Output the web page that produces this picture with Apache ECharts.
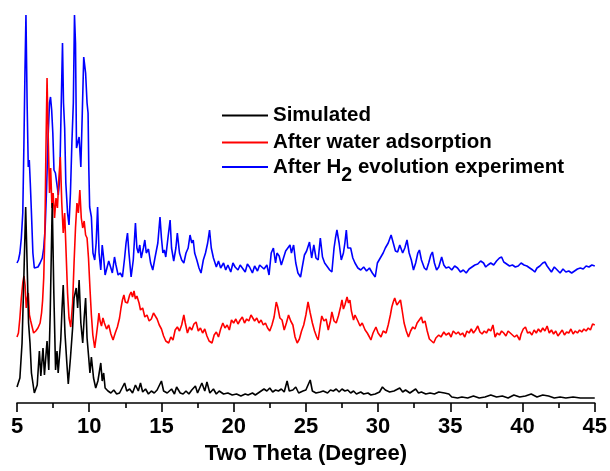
<!DOCTYPE html>
<html>
<head>
<meta charset="utf-8">
<script src="https://cdn.jsdelivr.net/npm/echarts/dist/echarts.min.js"></script>
<style>html,body{margin:0;padding:0;background:#fff;}#c{width:610px;height:471px;}</style>
</head>
<body>
<div id="c"></div>
<script>
// Series values: [two theta (deg), offset intensity (a.u.)]
const simulated = [
[5.0,16],[5.2,25],[5.35,60],[5.45,112],[5.6,196],[5.7,140],[5.8,80],[5.9,60],[6.0,30],[6.2,10],[6.4,18],[6.55,52],[6.65,27],[6.8,55],[6.9,28],[7.08,62],[7.2,33],[7.3,90],[7.44,200],[7.55,110],[7.67,33],[7.77,52],[7.85,30],[8.03,63],[8.12,95],[8.2,118],[8.32,70],[8.45,40],[8.55,19],[8.7,45],[8.85,75],[8.95,105],[9.1,115],[9.2,95],[9.3,123],[9.42,80],[9.55,60],[9.65,85],[9.75,105],[9.85,65],[9.95,48],[10.05,30],[10.15,46],[10.3,25],[10.45,15],[10.6,22],[10.8,40],[10.9,22],[11.0,30],[11.1,15],[11.3,12],[11.5,10],[11.7,13],[11.9,9],[12.1,10],[12.45,20],[12.6,12],[12.8,14],[13.0,10],[13.2,18],[13.4,12],[13.55,20],[13.7,11],[13.9,14],[14.1,9],[14.3,12],[14.5,10],[14.7,13],[15.0,22],[15.15,12],[15.4,10],[15.7,14],[15.9,9],[16.05,16],[16.3,10],[16.5,9],[16.7,12],[16.9,9],[17.1,13],[17.35,17],[17.5,10],[17.8,20],[18.0,12],[18.15,21],[18.35,10],[18.6,14],[18.8,9],[19.0,12],[19.3,9],[19.6,10],[19.9,8],[20.2,9],[20.5,7],[20.8,9],[21.0,8],[21.3,10],[21.5,8],[21.8,11],[22.1,14],[22.3,12],[22.5,15],[22.7,11],[22.9,13],[23.1,12],[23.3,14],[23.5,11],[23.7,22],[23.85,12],[24.1,13],[24.3,16],[24.5,10],[24.8,12],[25.0,13],[25.3,23],[25.45,12],[25.7,10],[26.0,11],[26.2,12],[26.5,10],[26.7,13],[26.9,12],[27.1,14],[27.3,11],[27.5,14],[27.7,12],[27.9,13],[28.1,10],[28.3,12],[28.5,9],[28.8,11],[29.0,9],[29.3,10],[29.5,8],[29.8,9],[30.1,11],[30.3,16],[30.5,13],[30.8,11],[31.1,12],[31.5,15],[31.7,11],[31.9,13],[32.2,10],[32.4,12],[32.6,14],[32.8,10],[33.0,11],[33.3,9],[33.6,10],[33.9,9],[34.2,11],[34.6,10],[34.9,9],[35.1,6],[35.5,5],[35.8,6],[36.2,5],[36.6,7],[37.0,5],[37.4,6],[37.8,8],[38.2,6],[38.6,7],[39.0,5],[39.4,8],[39.8,6],[40.2,7],[40.6,9],[41.0,6],[41.4,8],[41.8,7],[42.2,5],[42.6,6],[43.0,5],[43.5,6],[44.0,5],[44.5,5],[45.0,5]
];
const waterAdsorbed = [
[5.0,66],[5.1,70],[5.2,85],[5.3,105],[5.4,120],[5.48,127],[5.56,118],[5.64,95],[5.72,105],[5.78,110],[5.86,88],[5.95,82],[6.05,76],[6.15,70],[6.3,72],[6.45,75],[6.6,80],[6.7,90],[6.77,102],[6.85,125],[6.93,170],[7.0,250],[7.08,325],[7.17,260],[7.25,210],[7.33,235],[7.42,195],[7.5,210],[7.6,185],[7.7,205],[7.8,195],[7.9,225],[8.0,246],[8.1,200],[8.2,170],[8.3,190],[8.4,150],[8.5,110],[8.6,85],[8.72,76],[8.85,100],[8.95,140],[9.05,175],[9.15,200],[9.25,190],[9.35,213],[9.45,185],[9.55,175],[9.65,182],[9.75,168],[9.85,165],[9.95,145],[10.05,115],[10.15,88],[10.25,68],[10.38,55],[10.5,68],[10.6,80],[10.67,90],[10.75,82],[10.85,77],[10.95,85],[11.05,80],[11.2,74],[11.35,78],[11.5,69],[11.65,63],[11.8,70],[11.95,76],[12.1,85],[12.2,95],[12.3,103],[12.4,108],[12.5,101],[12.65,100],[12.8,108],[12.9,111],[13.0,106],[13.1,112],[13.2,104],[13.3,107],[13.45,100],[13.55,93],[13.7,95],[13.85,86],[14.0,88],[14.15,82],[14.3,84],[14.45,90],[14.55,88],[14.7,84],[14.85,78],[15.0,74],[15.15,67],[15.3,62],[15.5,60],[15.65,66],[15.8,63],[15.95,73],[16.1,76],[16.25,72],[16.4,78],[16.55,88],[16.65,80],[16.8,70],[16.95,76],[17.1,73],[17.25,79],[17.4,81],[17.55,72],[17.7,75],[17.85,70],[18.0,74],[18.15,67],[18.3,62],[18.5,60],[18.65,68],[18.8,71],[18.95,66],[19.1,74],[19.25,80],[19.4,75],[19.55,78],[19.7,73],[19.85,83],[20.0,80],[20.15,84],[20.3,79],[20.45,83],[20.6,86],[20.75,80],[20.9,84],[21.05,82],[21.2,88],[21.3,90],[21.45,82],[21.6,85],[21.75,80],[21.9,83],[22.05,78],[22.2,80],[22.35,75],[22.5,72],[22.65,78],[22.8,86],[22.95,101],[23.05,96],[23.2,85],[23.35,83],[23.5,73],[23.65,80],[23.8,88],[23.95,82],[24.1,78],[24.25,66],[24.4,60],[24.55,64],[24.7,72],[24.85,78],[25.0,88],[25.15,101],[25.3,90],[25.45,80],[25.6,72],[25.75,66],[25.85,63],[26.0,78],[26.1,87],[26.25,82],[26.4,84],[26.55,73],[26.7,82],[26.8,91],[26.95,82],[27.1,80],[27.25,87],[27.4,96],[27.5,103],[27.6,94],[27.7,98],[27.85,106],[27.95,100],[28.05,103],[28.15,92],[28.3,83],[28.4,88],[28.5,90],[28.6,82],[28.75,77],[28.9,80],[29.1,73],[29.25,70],[29.4,66],[29.5,63],[29.65,70],[29.85,76],[30.0,70],[30.2,66],[30.35,72],[30.55,70],[30.7,78],[30.85,88],[30.95,96],[31.05,101],[31.15,105],[31.3,98],[31.4,96],[31.55,103],[31.65,94],[31.8,80],[31.95,72],[32.1,66],[32.25,72],[32.4,76],[32.55,74],[32.7,80],[32.85,83],[33.0,86],[33.1,80],[33.25,82],[33.4,72],[33.55,64],[33.7,62],[33.85,60],[34.0,65],[34.2,68],[34.35,66],[34.55,71],[34.7,68],[34.9,70],[35.05,66],[35.2,72],[35.4,69],[35.55,71],[35.7,68],[35.85,70],[36.0,66],[36.15,72],[36.3,70],[36.45,74],[36.6,70],[36.75,73],[36.9,77],[37.05,71],[37.2,69],[37.35,72],[37.5,70],[37.65,74],[37.8,72],[37.95,78],[38.1,66],[38.25,70],[38.4,68],[38.55,72],[38.7,70],[38.85,67],[39.0,72],[39.15,70],[39.3,68],[39.45,66],[39.6,68],[39.8,63],[39.9,69],[40.05,74],[40.2,76],[40.35,70],[40.5,71],[40.65,68],[40.8,73],[40.95,70],[41.1,74],[41.25,71],[41.4,75],[41.55,72],[41.7,77],[41.85,70],[42.0,73],[42.15,69],[42.3,72],[42.45,67],[42.6,70],[42.75,73],[42.9,68],[43.05,71],[43.2,70],[43.35,74],[43.5,69],[43.65,72],[43.8,70],[43.95,73],[44.1,71],[44.25,74],[44.4,72],[44.55,75],[44.7,73],[44.85,79],[45.0,78]
];
const afterH2 = [
[5.0,140],[5.1,143],[5.2,150],[5.3,165],[5.4,190],[5.48,260],[5.55,330],[5.62,388],[5.7,300],[5.78,236],[5.85,243],[5.92,220],[6.0,190],[6.1,150],[6.2,135],[6.3,133],[6.45,136],[6.6,140],[6.75,145],[6.85,155],[6.95,175],[7.05,215],[7.15,265],[7.25,300],[7.32,306],[7.4,293],[7.48,270],[7.56,233],[7.66,230],[7.76,232],[7.86,208],[7.96,225],[8.05,290],[8.15,360],[8.22,300],[8.3,275],[8.38,220],[8.5,190],[8.6,178],[8.7,210],[8.8,260],[8.9,300],[8.98,388],[9.05,360],[9.12,255],[9.2,253],[9.3,266],[9.42,236],[9.52,290],[9.62,346],[9.75,330],[9.85,300],[9.92,290],[9.97,236],[10.03,196],[10.15,186],[10.26,150],[10.38,143],[10.48,160],[10.58,196],[10.68,150],[10.8,133],[10.9,158],[11.0,145],[11.1,128],[11.2,126],[11.35,142],[11.5,135],[11.6,130],[11.75,146],[11.85,138],[12.0,128],[12.15,130],[12.3,126],[12.45,145],[12.55,160],[12.65,170],[12.75,150],[12.9,126],[13.05,143],[13.2,180],[13.3,155],[13.4,150],[13.5,158],[13.6,145],[13.75,155],[13.85,163],[13.95,150],[14.1,154],[14.25,140],[14.4,133],[14.55,145],[14.75,160],[14.9,186],[15.0,165],[15.1,150],[15.2,153],[15.3,146],[15.45,165],[15.6,183],[15.7,155],[15.85,142],[16.0,155],[16.1,170],[16.25,150],[16.4,143],[16.55,140],[16.7,150],[16.85,155],[16.98,168],[17.1,160],[17.2,163],[17.3,150],[17.45,143],[17.6,135],[17.74,130],[17.9,143],[18.05,150],[18.2,160],[18.33,173],[18.45,155],[18.6,145],[18.8,136],[18.95,142],[19.1,135],[19.3,140],[19.45,133],[19.6,138],[19.8,131],[19.95,140],[20.1,136],[20.3,133],[20.45,138],[20.6,135],[20.8,131],[20.95,139],[21.1,136],[21.3,130],[21.45,137],[21.65,132],[21.8,138],[21.95,136],[22.1,134],[22.3,138],[22.45,128],[22.6,150],[22.75,155],[22.9,140],[23.0,150],[23.15,147],[23.3,138],[23.45,145],[23.6,152],[23.75,155],[23.9,158],[24.0,150],[24.15,158],[24.3,140],[24.45,130],[24.63,126],[24.75,136],[24.9,148],[25.05,152],[25.25,161],[25.4,145],[25.55,158],[25.7,145],[25.85,143],[26.0,165],[26.15,146],[26.3,140],[26.5,136],[26.65,133],[26.8,131],[26.95,155],[27.05,165],[27.15,173],[27.3,160],[27.45,143],[27.6,150],[27.7,160],[27.8,173],[27.9,155],[28.0,153],[28.1,155],[28.25,145],[28.4,140],[28.6,135],[28.8,133],[29.0,136],[29.2,132],[29.4,135],[29.6,130],[29.8,126],[29.95,140],[30.15,145],[30.35,150],[30.5,155],[30.7,160],[30.9,168],[31.05,160],[31.2,152],[31.35,151],[31.5,158],[31.7,150],[31.85,155],[32.0,163],[32.15,150],[32.3,143],[32.45,133],[32.6,140],[32.75,150],[32.86,153],[33.0,143],[33.2,135],[33.35,133],[33.5,140],[33.65,148],[33.76,151],[33.9,140],[34.05,133],[34.2,136],[34.4,146],[34.55,138],[34.7,135],[34.9,136],[35.1,133],[35.3,137],[35.5,135],[35.7,131],[35.9,133],[36.1,130],[36.3,134],[36.5,136],[36.7,138],[36.9,139],[37.1,142],[37.3,140],[37.45,136],[37.6,138],[37.8,140],[38.0,138],[38.2,142],[38.4,145],[38.55,146],[38.7,141],[38.9,139],[39.1,137],[39.3,138],[39.5,136],[39.7,137],[39.9,140],[40.1,138],[40.3,137],[40.5,135],[40.7,133],[40.85,131],[41.0,135],[41.2,137],[41.4,140],[41.55,141],[41.7,137],[41.85,134],[42.0,131],[42.2,136],[42.4,133],[42.6,130],[42.8,134],[43.0,131],[43.2,132],[43.4,130],[43.6,132],[43.8,134],[44.0,135],[44.2,134],[44.4,137],[44.6,136],[44.8,138],[45.0,137]
];
const seriesNames = ['Simulated', 'After water adsorption', 'After H2 evolution experiment'];
const xTicks = [5, 10, 15, 20, 25, 30, 35, 40, 45];

const FONT = "'Liberation Sans', Arial, sans-serif";
const colors = ['#000000', '#ff0000', '#0000ff'];
const chart = echarts.init(document.getElementById('c'), null, {renderer: 'canvas'});

function legendFor(i, top) {
  const base = {fontFamily: FONT, fontSize: 20.5, fontWeight: 'bold', color: '#000', lineHeight: 20};
  return {
    data: [seriesNames[i]], orient: 'vertical', left: 222, top: top,
    icon: 'rect', itemWidth: 46, itemHeight: 2, padding: 0,
    selectedMode: false,
    textStyle: Object.assign({}, base, {
      rich: {
        a: base,
        s: Object.assign({}, base, {fontSize: 19.5, padding: [18, 0, 0, 0]})
      }
    }),
    formatter: function (name) {
      if (name === seriesNames[2]) return '{a|After H}{s|2}{a| evolution experiment}';
      return name;
    }
  };
}

const datasets = [simulated, waterAdsorbed, afterH2];
chart.setOption({
  animation: false,
  backgroundColor: '#fff',
  grid: {left: 17, right: 13, top: 0, bottom: 68, containLabel: false},
  legend: [legendFor(0, 105), legendFor(1, 132), legendFor(2, 148)],
  xAxis: {
    type: 'value', min: xTicks[0], max: xTicks[xTicks.length - 1], interval: 5,
    axisLine: {show: true, lineStyle: {color: '#000', width: 1.6}},
    axisTick: {show: true, inside: false, length: 9, lineStyle: {color: '#000', width: 1.6}},
    minorTick: {show: true, splitNumber: 2, length: 5, lineStyle: {color: '#000', width: 1.6}},
    splitLine: {show: false},
    axisLabel: {fontFamily: FONT, fontSize: 22, fontWeight: 'bold', color: '#000', margin: 13},
    name: 'Two Theta (Degree)', nameLocation: 'middle', nameGap: 35,
    nameTextStyle: {fontFamily: FONT, fontSize: 22, fontWeight: 'bold', color: '#000'}
  },
  yAxis: {type: 'value', min: 0, max: 403, show: false, splitLine: {show: false}},
  series: datasets.map(function (d, i) {
    return {
      name: seriesNames[i], type: 'line', data: d, showSymbol: false, symbol: 'none',
      z: 4 - i, color: colors[i],
      lineStyle: {color: colors[i], width: 1.6}
    };
  })
});
</script>
</body>
</html>
